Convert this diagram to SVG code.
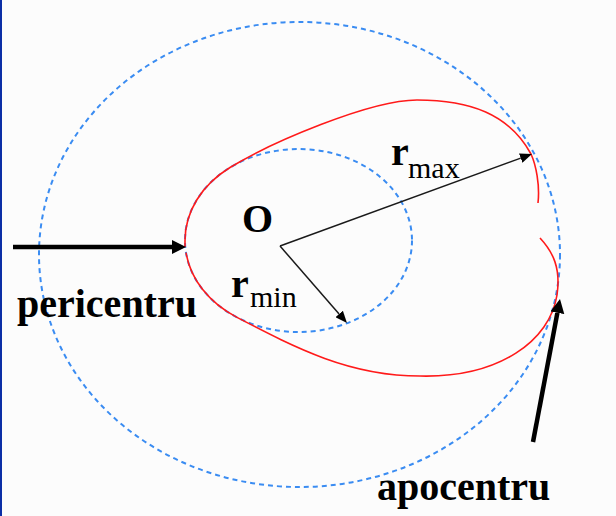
<svg xmlns="http://www.w3.org/2000/svg" width="616" height="516" viewBox="0 0 616 516">
  <style>
    .dash { fill: none; stroke: #3a8cf2; stroke-width: 2; stroke-dasharray: 5 4; }
    .orbit { fill: none; stroke: #ff1a1a; stroke-width: 1.6; }
    .thin { stroke: #1a1a1a; stroke-width: 1.5; fill: none; }
    .thick { stroke: #000; stroke-width: 4.5; fill: none; }
    .lbl { font-family: "Liberation Serif", "Times New Roman", serif; fill: #000; }
    .b { font-weight: bold; font-size: 40px; }
    .sub { font-size: 30px; }
  </style>
  <defs>
    <marker id="ahThin" markerUnits="userSpaceOnUse" markerWidth="13" markerHeight="10" refX="0" refY="5" orient="auto">
      <path d="M0,0 L12,5 L0,10 z" fill="#000"/>
    </marker>
    <marker id="ahThick" markerUnits="userSpaceOnUse" markerWidth="15" markerHeight="15" refX="0" refY="7" orient="auto">
      <path d="M0,0 L14,7 L0,14 z" fill="#000"/>
    </marker>
  </defs>

  <rect x="0" y="0" width="616" height="516" fill="#fcfcfc"/>
  <rect x="0" y="0" width="2" height="516" fill="#0b2fa6"/>

  <g id="outer-circle">
    <ellipse class="dash" cx="299.5" cy="254.5" rx="260.5" ry="232.5"/>
  </g>
  <g id="inner-circle">
    <ellipse class="dash" cx="298.5" cy="240.5" rx="113.5" ry="91.5"/>
  </g>
  <g id="orbit">
    <path class="orbit" d="M185,247 L185,240.5 A113.5,91.5 0 0 1 230,167.5 C270,143 370,100 417,100 C470,100 509,114 531,154 C536,165 540,185 538,203"/>
    <path class="orbit" d="M186,252.7 A113.5,91.5 0 0 0 237,317.4 C297,348.6 350,376 420,376 C500,378 550,340 557,295 C561,268 553,252 540,238"/>
  </g>

  <g id="connectors">
    <line class="thin" x1="280" y1="246" x2="520.7" y2="158.1" marker-end="url(#ahThin)"/>
    <line class="thin" x1="280" y1="246" x2="339.1" y2="314" marker-end="url(#ahThin)"/>
    <line class="thick" x1="13" y1="247" x2="172" y2="247" marker-end="url(#ahThick)"/>
    <line class="thick" x1="533" y1="442" x2="557.4" y2="312.8" marker-end="url(#ahThick)"/>
  </g>

  <g id="label-O">
    <text class="lbl b" x="242" y="232">O</text>
  </g>
  <g id="label-rmax">
    <text class="lbl b" x="391" y="165">r</text>
    <text class="lbl sub" x="408" y="178">max</text>
  </g>
  <g id="label-rmin">
    <text class="lbl b" x="231" y="297">r</text>
    <text class="lbl sub" x="250" y="307">min</text>
  </g>
  <g id="label-pericentru">
    <text class="lbl b" x="17" y="317">pericentru</text>
  </g>
  <g id="label-apocentru">
    <text class="lbl b" x="377" y="500">apocentru</text>
  </g>
</svg>
